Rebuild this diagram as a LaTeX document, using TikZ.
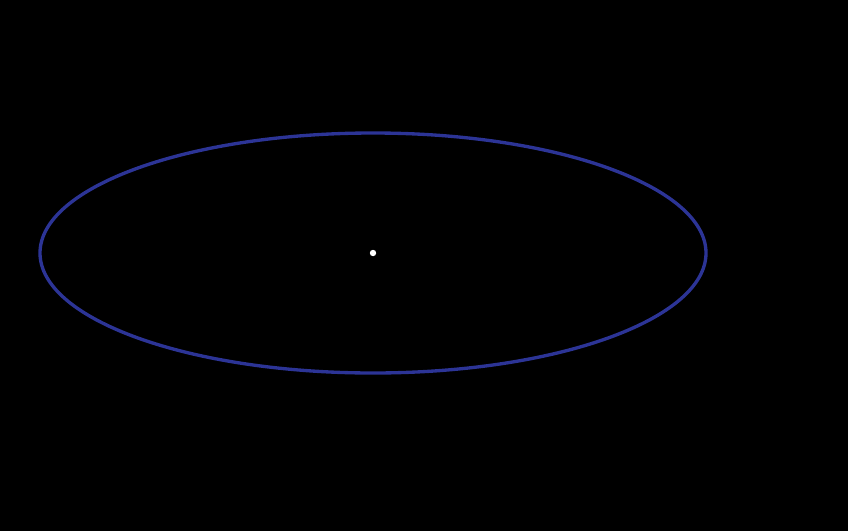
\documentclass[tikz,border=0pt]{standalone}
\definecolor{orbitblue}{RGB}{44,52,150}
\usetikzlibrary{positioning, calc}

\begin{document}
\begin{tikzpicture}[x=0.02cm, y=-0.02cm]
  % background
  \fill[black] (0,0) rectangle (848,531);
  \useasboundingbox (0,0) rectangle (848,531);

  % orbit
  \coordinate (centre) at (373,253);
  \draw[orbitblue, line width=1.9pt] (centre) ellipse [x radius=333, y radius=120];

  % focus dot
  \fill[white] (centre) circle [radius=3.2];
\end{tikzpicture}
\end{document}
